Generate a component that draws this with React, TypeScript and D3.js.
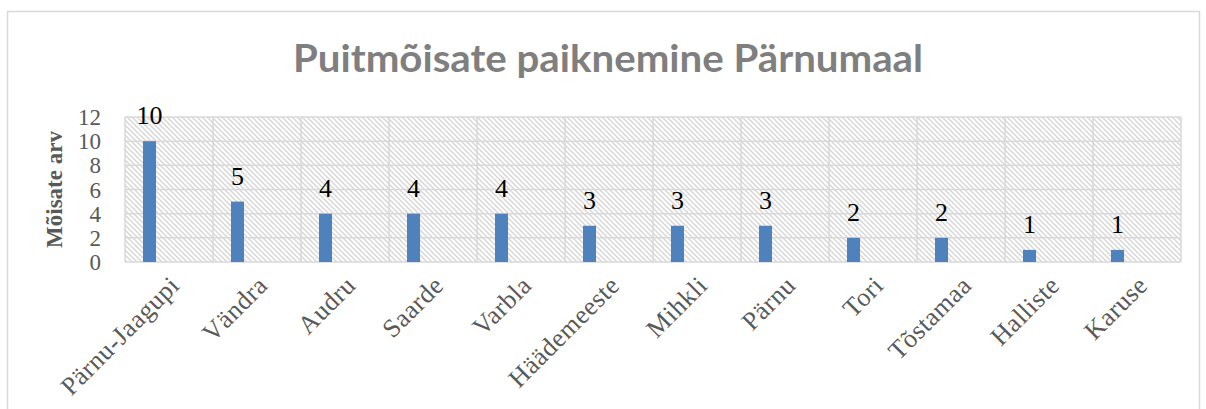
import React, { useRef, useEffect } from 'react';
import * as d3 from 'd3';

const categories = ['Pärnu-Jaagupi', 'Vändra', 'Audru', 'Saarde', 'Varbla', 'Häädemeeste', 'Mihkli', 'Pärnu', 'Tori', 'Tõstamaa', 'Halliste', 'Karuse'];
const values = [10, 5, 4, 4, 4, 3, 3, 3, 2, 2, 1, 1];
const yTicks = [0, 2, 4, 6, 8, 10, 12];
const title = 'Puitmõisate paiknemine Pärnumaal';
const yTitle = 'Mõisate arv';

function App() {
  const svgRef = useRef<SVGSVGElement>(null);

  useEffect(() => {
    const svg = d3.select(svgRef.current);
    svg.selectAll('*').remove();

    const width = 1206;
    const height = 409;
    const left = 125, right = 1181, top = 117, bottom = 262;
    const serif = '"Liberation Serif", "DejaVu Serif", serif';

    svg.attr('width', width).attr('height', height);

    // hatch pattern for plot area
    const defs = svg.append('defs');
    const pat = defs.append('pattern')
      .attr('id', 'hatch')
      .attr('patternUnits', 'userSpaceOnUse')
      .attr('width', 5)
      .attr('height', 5);
    pat.append('rect').attr('width', 5).attr('height', 5).attr('fill', '#fff');
    pat.append('path')
      .attr('d', 'M-1,-1 L6,6 M-1,4 L1,6 M4,-1 L6,1')
      .attr('stroke', '#d6d6d6')
      .attr('stroke-width', 1.4);

    svg.append('rect').attr('width', width).attr('height', height).attr('fill', '#fff');

    // outer chart border
    svg.append('rect')
      .attr('x', 7.5).attr('y', 11.5)
      .attr('width', 1192).attr('height', 420)
      .attr('fill', 'none')
      .attr('stroke', '#d9d9d9')
      .attr('stroke-width', 1.5);

    const x = d3.scaleBand<string>().domain(categories).range([left, right]).paddingInner(0).paddingOuter(0);
    const y = d3.scaleLinear().domain([0, 12]).range([bottom, top]);

    svg.append('rect')
      .attr('x', left).attr('y', top)
      .attr('width', right - left).attr('height', bottom - top)
      .attr('fill', 'url(#hatch)');

    // gridlines
    svg.append('g').selectAll('line')
      .data(yTicks)
      .enter()
      .append('line')
      .attr('x1', left).attr('x2', right)
      .attr('y1', d => y(d)).attr('y2', d => y(d))
      .attr('stroke', '#d9d9d9')
      .attr('stroke-width', 1.5);

    svg.append('g').selectAll('line')
      .data(categories.concat(['__end']))
      .enter()
      .append('line')
      .attr('x1', (d, i) => left + i * x.bandwidth())
      .attr('x2', (d, i) => left + i * x.bandwidth())
      .attr('y1', top).attr('y2', bottom)
      .attr('stroke', '#d9d9d9')
      .attr('stroke-width', 1.5);

    // bars
    const barOffset = 18;
    const barWidth = 13;
    svg.append('g').selectAll('rect')
      .data(values)
      .enter()
      .append('rect')
      .attr('x', (d, i) => (x(categories[i]) as number) + barOffset)
      .attr('y', d => y(d))
      .attr('width', barWidth)
      .attr('height', d => y(0) - y(d))
      .attr('fill', '#4f81bd');

    // data labels
    svg.append('g').selectAll('text')
      .data(values)
      .enter()
      .append('text')
      .attr('x', (d, i) => (x(categories[i]) as number) + barOffset + barWidth / 2)
      .attr('y', d => y(d) - 17)
      .attr('text-anchor', 'middle')
      .style('font-family', serif)
      .style('font-size', '26px')
      .attr('fill', '#000')
      .text(d => d);

    // y tick labels
    svg.append('g').selectAll('text')
      .data(yTicks)
      .enter()
      .append('text')
      .attr('x', 101)
      .attr('y', d => y(d) + 8)
      .attr('text-anchor', 'end')
      .style('font-family', serif)
      .style('font-size', '23px')
      .attr('fill', '#595959')
      .text(d => d);

    // y axis title
    svg.append('text')
      .attr('transform', `translate(62, ${(top + bottom) / 2}) rotate(-90)`)
      .attr('text-anchor', 'middle')
      .style('font-family', serif)
      .style('font-size', '23px')
      .style('font-weight', 'bold')
      .attr('fill', '#595959')
      .text(yTitle);

    // x labels
    svg.append('g').selectAll('text')
      .data(categories)
      .enter()
      .append('text')
      .attr('transform', d => `translate(${(x(d) as number) + x.bandwidth() / 2 + 12}, 287) rotate(-45)`)
      .attr('text-anchor', 'end')
      .style('font-family', serif)
      .style('font-size', '26px')
      .style('letter-spacing', '0.5px')
      .attr('fill', '#595959')
      .text(d => d);

    // title
    svg.append('text')
      .attr('x', 608)
      .attr('y', 72)
      .attr('text-anchor', 'middle')
      .attr('textLength', 630)
      .attr('lengthAdjust', 'spacingAndGlyphs')
      .style('font-family', 'Lato, "Open Sans", sans-serif')
      .style('font-size', '38px')
      .style('font-weight', 'bold')
      .attr('fill', '#7f7f7f')
      .text(title);
  }, []);

  return <svg ref={svgRef} style={{ position: 'absolute', left: 0, top: 0 }}></svg>;
}

export default App;
